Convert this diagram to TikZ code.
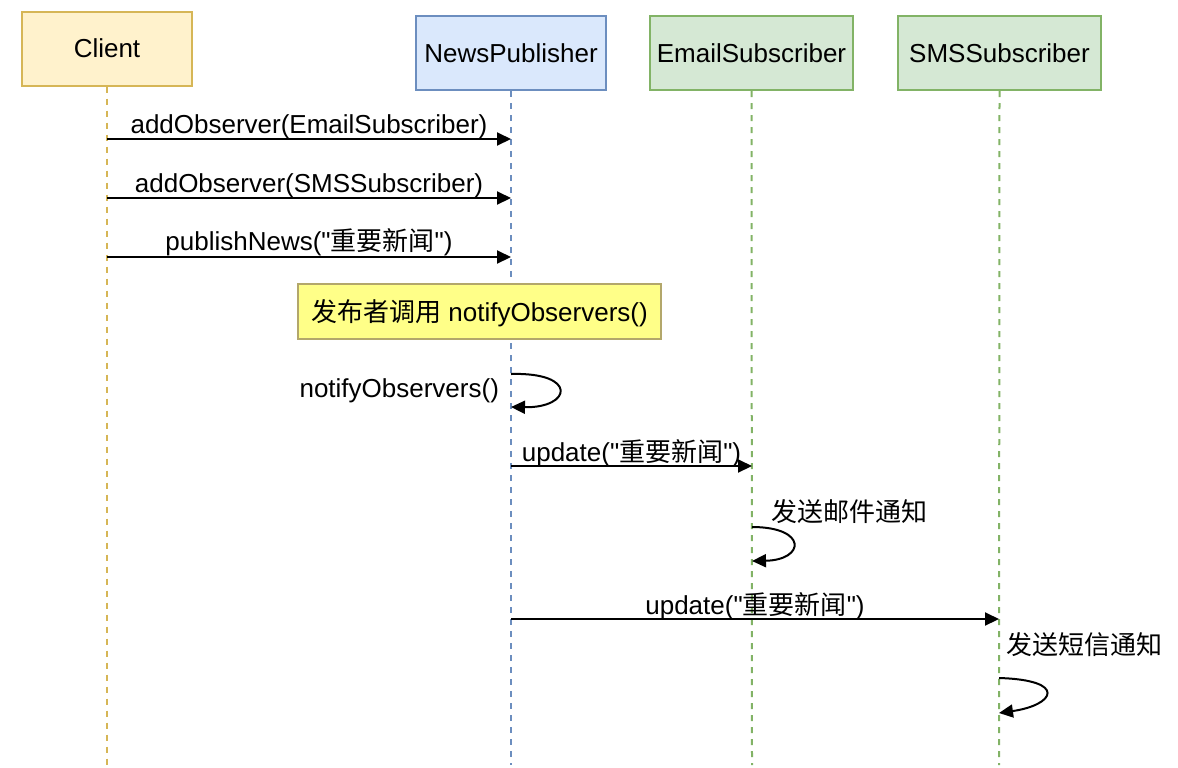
\documentclass[tikz,border=0pt]{standalone}
\usepackage{fontspec}
\setmainfont{Liberation Sans}[Ligatures=TeXOff]
\newfontfamily\cjk{Noto Sans CJK SC}
\usetikzlibrary{arrows.meta,positioning,calc}
\definecolor{clientfill}{HTML}{FFF2CC}
\definecolor{clientline}{HTML}{D6B656}
\definecolor{pubfill}{HTML}{DAE8FC}
\definecolor{publine}{HTML}{6C8EBF}
\definecolor{subfill}{HTML}{D5E8D4}
\definecolor{subline}{HTML}{82B366}
\definecolor{notefill}{HTML}{FFFF88}
\definecolor{noteline}{HTML}{B3A76B}

\begin{document}
\begin{tikzpicture}[
      x=0.5pt, y=-0.5pt,
      every node/.style={font=\fontsize{13}{16}\selectfont},
      participant/.style={draw, line width=1pt, minimum height=37pt, inner sep=0pt},
      lifeline/.style={line width=1pt, dash pattern=on 3pt off 3pt},
      msg/.style={-{Triangle[length=7pt, width=6.5pt]}, line width=1pt},
      lbl/.style={inner sep=1pt}
    ]
    \useasboundingbox (0,0) rectangle (1178,767);

    % participants
    \node[participant, fill=clientfill, draw=clientline, minimum width=85pt] (client) at (107,48.5) {Client};
    \node[participant, fill=pubfill, draw=publine, minimum width=95pt] (pub) at (511,53) {NewsPublisher};
    \node[participant, fill=subfill, draw=subline, minimum width=101.5pt] (email) at (751.5,53) {EmailSubscriber};
    \node[participant, fill=subfill, draw=subline, minimum width=101.5pt] (sms) at (999.5,53) {SMSSubscriber};

    % lifelines
    \coordinate (clientend) at (107,765);
    \coordinate (pubend) at (511,765);
    \coordinate (emailend) at (752,765);
    \coordinate (smsend) at (999,765);
    \draw[lifeline, clientline] (client.south) -- (clientend);
    \draw[lifeline, publine] (pub.south) -- (pubend);
    \draw[lifeline, subline] (email.south) -- (emailend);
    \draw[lifeline, subline] (sms.south) -- (smsend);

    % registration and publish
    \coordinate (c1) at (107,139); \coordinate (p1) at (511,139);
    \coordinate (c2) at (107,198); \coordinate (p2) at (511,198);
    \coordinate (c3) at (107,257); \coordinate (p3) at (511,257);
    \draw[msg] (c1) -- (p1) node[lbl, midway, above=-1.5pt] {addObserver(EmailSubscriber)};
    \draw[msg] (c2) -- (p2) node[lbl, midway, above=-1.5pt] {addObserver(SMSSubscriber)};
    \draw[msg] (c3) -- (p3) node[lbl, midway, above=-1pt] {publishNews("{\cjk 重要新闻}")};

    % note
    \node[draw=noteline, fill=notefill, line width=1pt, minimum width=181.5pt, minimum height=27.5pt, inner sep=0pt, text height=11pt, text depth=1.5pt] (note) at (479.5,311.5) {{\cjk 发布者调用} notifyObservers()};

    % notify loop
    \coordinate (p4a) at (511,374); \coordinate (p4b) at (511,407);
    \draw[msg] (p4a) .. controls (578,372) and (572,408) .. (p4b);
    \node[anchor=east] (notifylbl) at (506,391) {notifyObservers()};

    % update email
    \coordinate (p5) at (511,466); \coordinate (e5) at (752,466);
    \draw[msg] (p5) -- (e5) node[lbl, midway, above=-2pt] {update("{\cjk 重要新闻}")};
    \coordinate (e6a) at (752,527); \coordinate (e6b) at (752,561);
    \draw[msg] (e6a) .. controls (808,527) and (805,560) .. (e6b);
    \node[anchor=west] (emaillbl) at (764,512) {\cjk 发送邮件通知};

    % update sms
    \coordinate (p7) at (511,619); \coordinate (s7) at (999,619);
    \draw[msg] (p7) -- (s7) node[lbl, midway, above=-2pt] {update("{\cjk 重要新闻}")};
    \coordinate (s8a) at (999,678); \coordinate (s8b) at (999,713);
    \draw[msg] (s8a) .. controls (1068,680) and (1055,705) .. (s8b);
    \node[anchor=west] (smslbl) at (999,645) {\cjk 发送短信通知};
  \end{tikzpicture}
\end{document}
